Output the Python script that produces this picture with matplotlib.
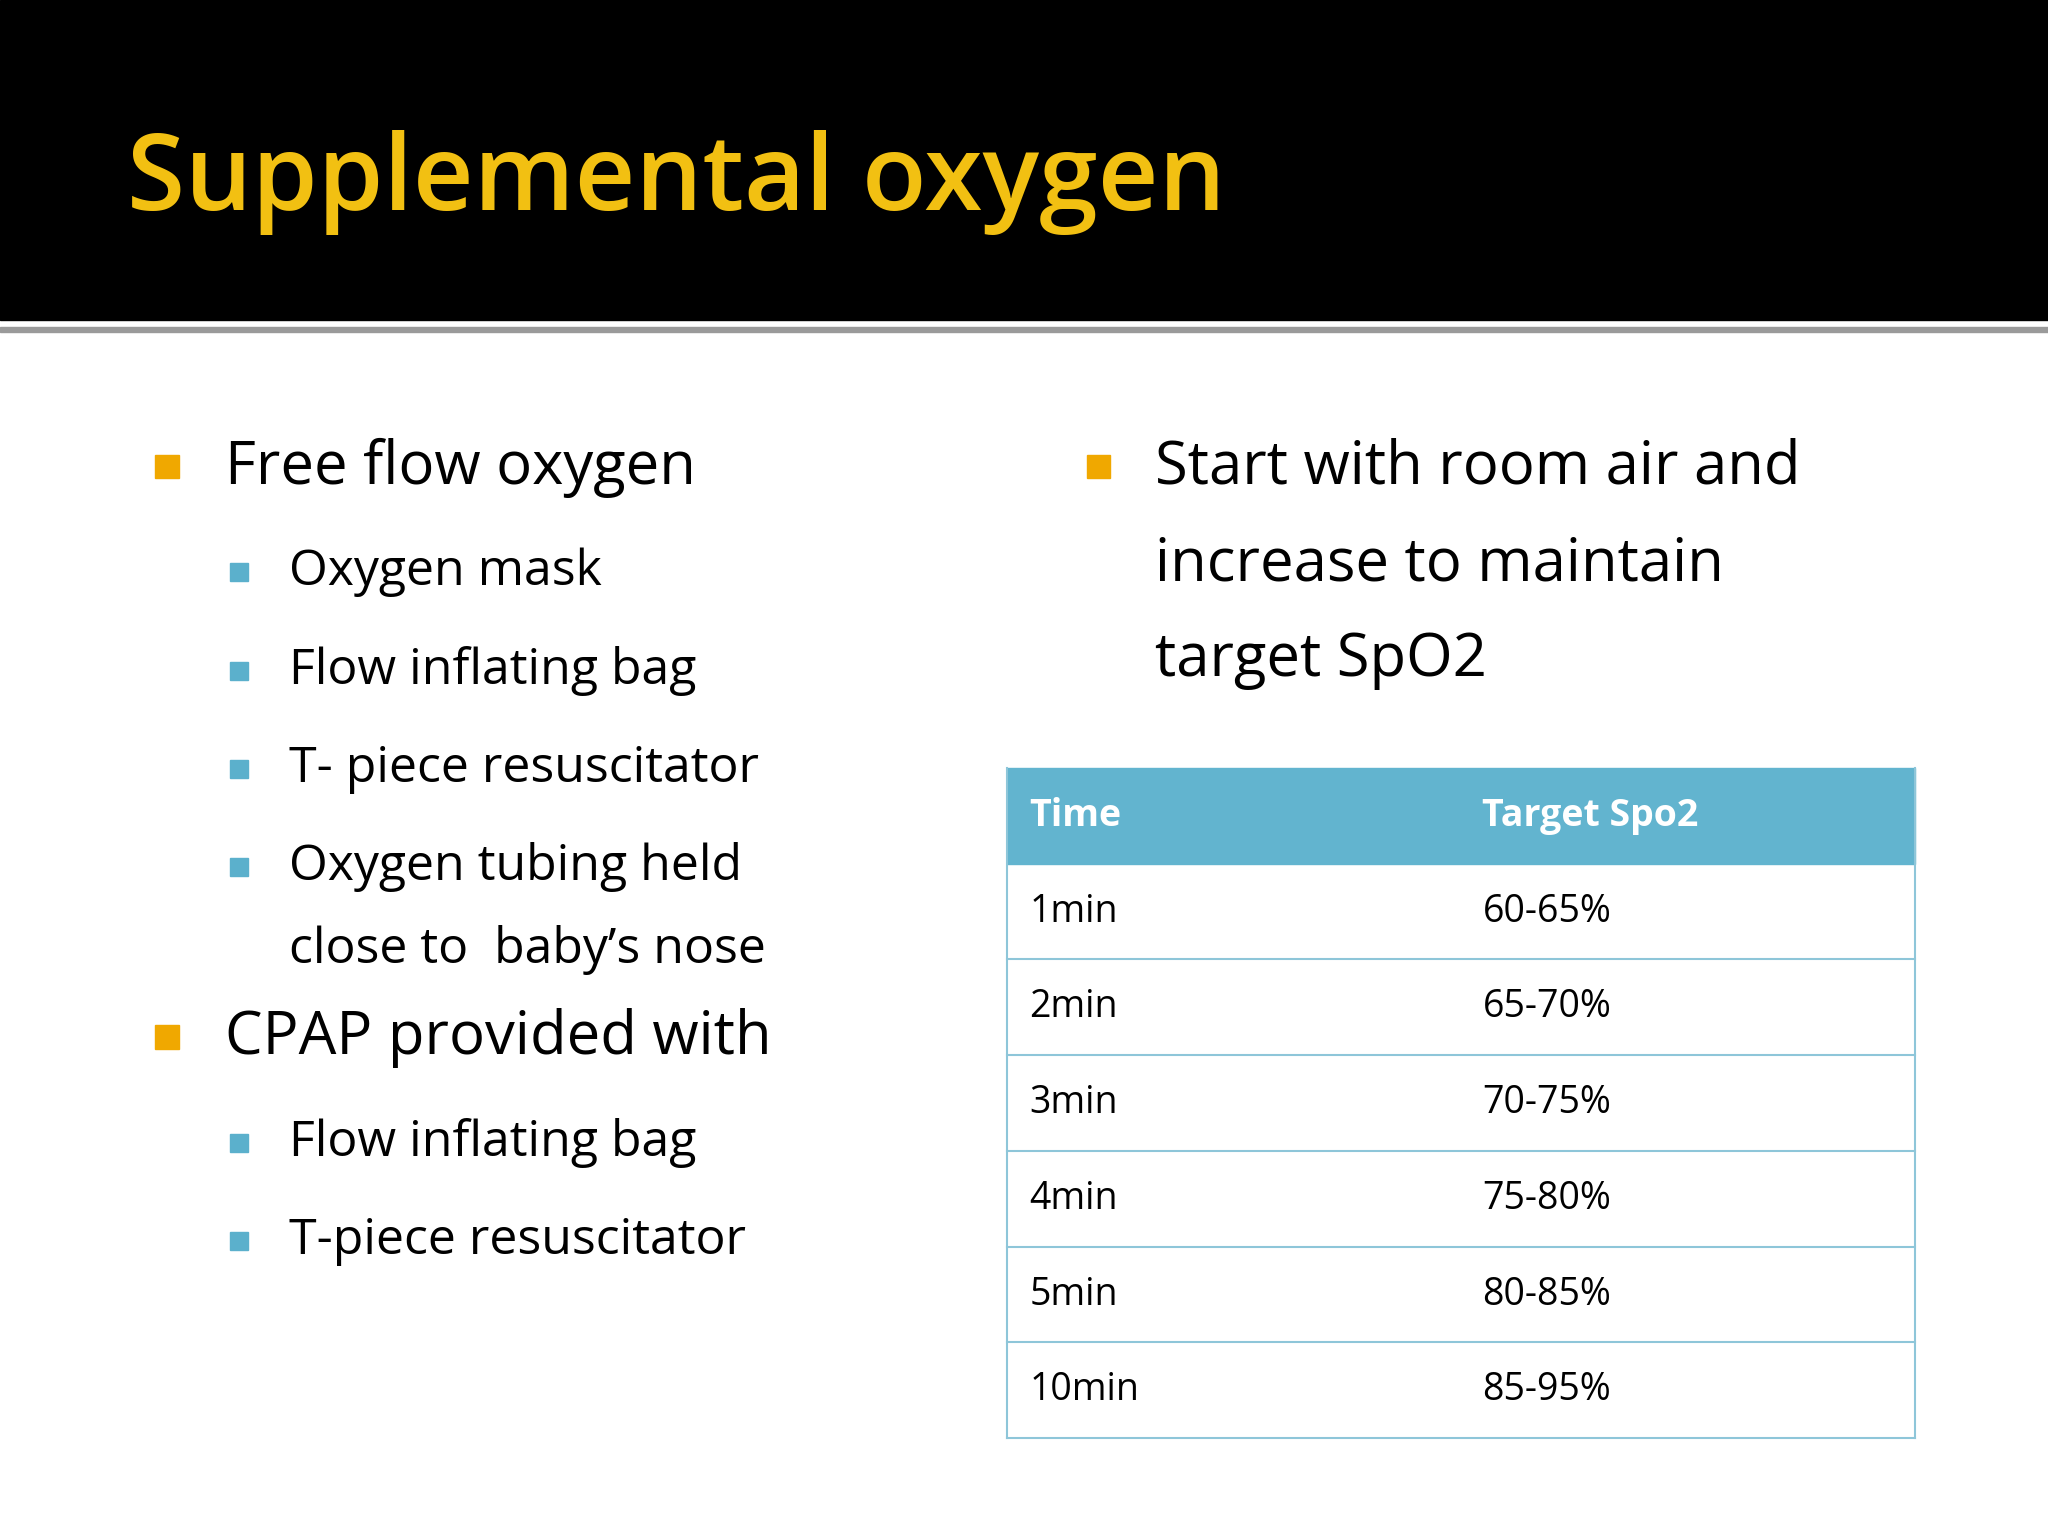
import matplotlib
matplotlib.use("Agg")
import matplotlib.pyplot as plt
from matplotlib.patches import Rectangle

title = "Supplemental oxygen"
left_items = [(0, "Free flow oxygen"), (1, "Oxygen mask"), (1, "Flow inflating bag"),
              (1, "T- piece resuscitator"), (1, "Oxygen tubing held"), (2, "close to  baby’s nose"),
              (0, "CPAP provided with"), (1, "Flow inflating bag"), (1, "T-piece resuscitator")]
left_y = [358, 438, 514, 589, 664, 727, 795, 875, 950]
right_lines = ["Start with room air and", "increase to maintain", "target SpO2"]
right_y = [358, 432, 505]
headers = ["Time", "Target Spo2"]
times = ["1min", "2min", "3min", "4min", "5min", "10min"]
targets = ["60-65%", "65-70%", "70-75%", "75-80%", "80-85%", "85-95%"]

W, H = 1568, 1176
fig = plt.figure(figsize=(20.48, 15.36), dpi=100)
ax = fig.add_axes([0, 0, 1, 1])
ax.set_xlim(0, W); ax.set_ylim(H, 0); ax.axis("off")
FONT = "Open Sans"

ax.add_patch(Rectangle((0, 0), W, 245, color="black"))
ax.add_patch(Rectangle((0, 250), W, 4, color="#9a9a9a"))
ax.text(97, 140, title, color="#F2C012", fontsize=76, fontweight="semibold",
        family=FONT, va="center", ha="left")

orange = "#F0A800"; blue = "#5BB0CC"
for (lvl, t), y in zip(left_items, left_y):
    if lvl == 0:
        ax.add_patch(Rectangle((119, y - 10), 18, 18, color=orange))
        ax.text(172, y, t, fontsize=43, family=FONT, va="center", color="black")
    else:
        if lvl == 1:
            ax.add_patch(Rectangle((176, y - 7), 14, 14, color=blue))
        ax.text(221, y, t, fontsize=36, family=FONT, va="center", color="black")

ax.add_patch(Rectangle((832, 348), 18, 18, color=orange))
for t, y in zip(right_lines, right_y):
    ax.text(884, y, t, fontsize=43, family=FONT, va="center", color="black")

x0, x1, xc = 771, 1466, 1135
top, hh = 588, 73.3
ax.add_patch(Rectangle((x0, top), x1 - x0, hh, color="#62B4CF"))
ax.text(788, top + hh / 2, headers[0], fontsize=27, fontweight="bold", family=FONT, color="white", va="center")
ax.text(xc, top + hh / 2, headers[1], fontsize=27, fontweight="bold", family=FONT, color="white", va="center")
line_c = "#8EC6D9"
for i, (a, b) in enumerate(zip(times, targets)):
    yt = top + hh * (i + 1)
    ax.plot([x0, x1], [yt + hh, yt + hh], color=line_c, lw=1.5)
    ax.text(788, yt + hh / 2, a, fontsize=27, family=FONT, va="center")
    ax.text(xc, yt + hh / 2, b, fontsize=27, family=FONT, va="center")
bot = top + hh * 7
ax.plot([x0, x0], [top, bot], color=line_c, lw=1.5)
ax.plot([x1, x1], [top, bot], color=line_c, lw=1.5)

fig.savefig("out.png", dpi=100, facecolor="white")
